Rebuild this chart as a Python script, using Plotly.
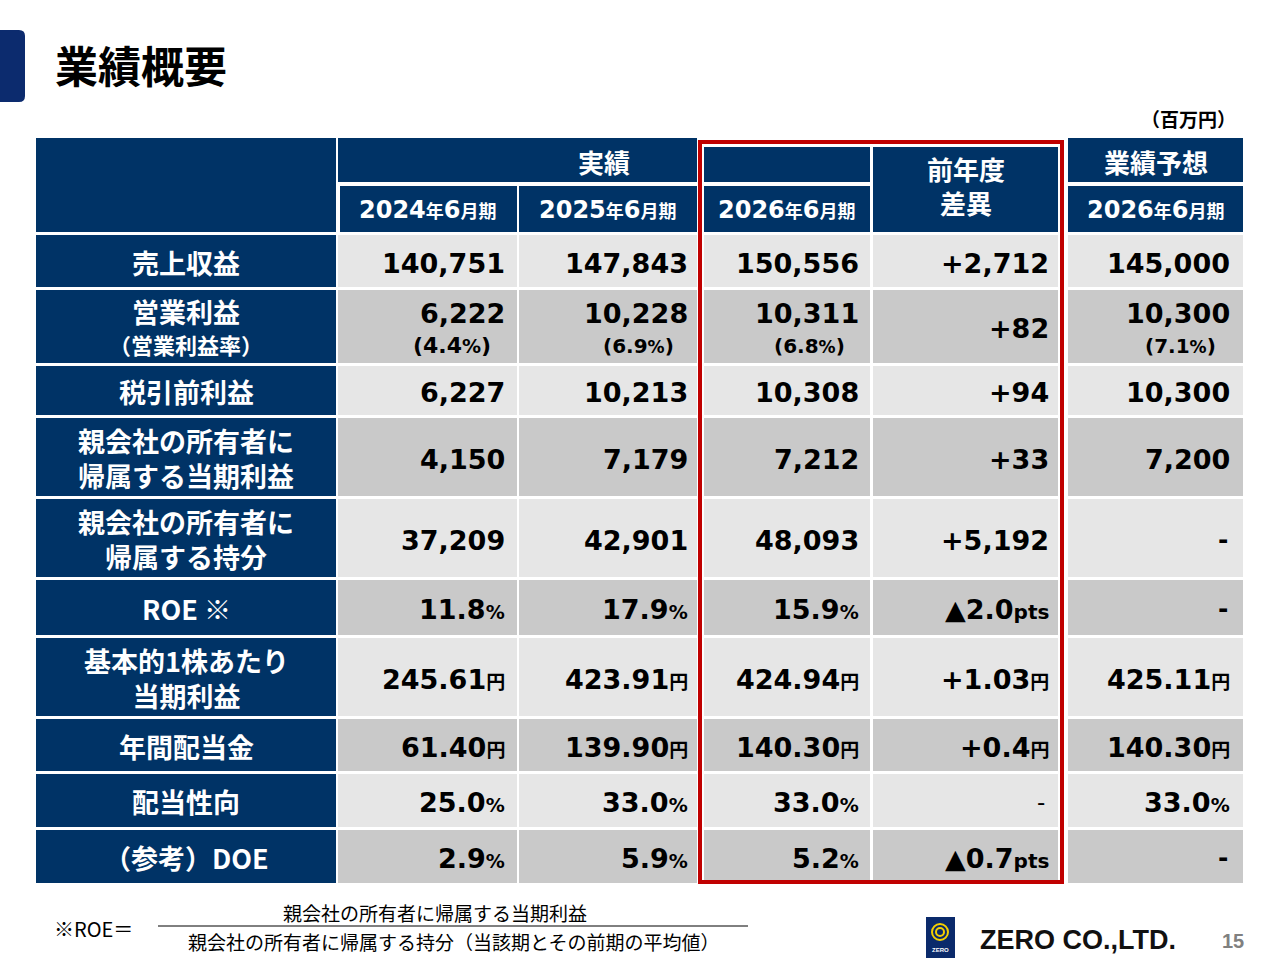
import plotly.graph_objects as go

# ---------------- data ----------------
row_labels = [
    ["売上収益"],
    ["営業利益", "（営業利益率）"],
    ["税引前利益"],
    ["親会社の所有者に", "帰属する当期利益"],
    ["親会社の所有者に", "帰属する持分"],
    ["ROE ※"],
    ["基本的1株あたり", "当期利益"],
    ["年間配当金"],
    ["配当性向"],
    ["（参考）DOE"],
]
units = ["", "", "", "", "", "%", "円", "円", "%", "%"]
diff_units = ["", "", "", "", "", "pts", "円", "円", "", "pts"]

fy2024 = ["140,751", "6,222", "6,227", "4,150", "37,209", "11.8", "245.61", "61.40", "25.0", "2.9"]
fy2025 = ["147,843", "10,228", "10,213", "7,179", "42,901", "17.9", "423.91", "139.90", "33.0", "5.9"]
fy2026 = ["150,556", "10,311", "10,308", "7,212", "48,093", "15.9", "424.94", "140.30", "33.0", "5.2"]
diff_prev = ["+2,712", "+82", "+94", "+33", "+5,192", "▲2.0", "+1.03", "+0.4", "-", "▲0.7"]
forecast = ["145,000", "10,300", "10,300", "7,200", "-", "-", "425.11", "140.30", "33.0", "-"]

op_margin_2024 = "4.4"
op_margin_2025 = "6.9"
op_margin_2026 = "6.8"
op_margin_fc = "7.1"

period_headers = ["2024", "2025", "2026", "2026"]
group_actual = "実績"
group_diff = ["前年度", "差異"]
group_forecast = "業績予想"
title = "業績概要"
unit_note = "（百万円）"
roe_numerator = "親会社の所有者に帰属する当期利益"
roe_denominator = "親会社の所有者に帰属する持分（当該期とその前期の平均値）"

# ---------------- layout geometry ----------------
NAVY = "#003366"
LIGHT = "#e6e6e6"
DARK = "#c9c9c9"
RED = "#c00000"
NUM_FONT = "DejaVu Sans, Noto Sans CJK JP"
JP_FONT = "Noto Sans CJK JP"

label_x = (36, 336)
col_x = [(338, 517), (519, 697), (704, 870), (873, 1058), (1068, 1243)]
col_right = [507, 690, 861, 1051, 1232]
row_y = [(235, 287), (290, 363), (366, 415), (418, 496), (499, 577),
         (580, 635), (638, 716), (719, 771), (774, 827), (830, 883)]

shapes = []
annotations = []


def rect(x0, x1, y0, y1, color, line=None, lw=0):
    shapes.append(dict(type="rect", xref="x", yref="y", x0=x0, x1=x1, y0=y0, y1=y1,
                       fillcolor=color, line=dict(width=lw, color=line or color),
                       layer="below"))


def text(x, y, s, size, color="#000", font=JP_FONT, anchor="center", weight="bold"):
    annotations.append(dict(x=x, y=y, xref="x", yref="y", text=s, showarrow=False,
                            xanchor=anchor, yanchor="middle", align=anchor if anchor != "center" else "center",
                            font=dict(size=size, color=color, family=font, weight=weight)))


def small(s, size=17):
    return f"<span style='font-size:{size}px'>{s}</span>"


# title block
shapes.append(dict(type="path", xref="x", yref="y",
                   path="M 0 30 L 19 30 Q 25 30 25 36 L 25 96 Q 25 102 19 102 L 0 102 Z",
                   fillcolor="#0c2b6e", line=dict(width=0)))
text(53, 64, title, 43, anchor="left")
text(1238, 118, unit_note, 19, anchor="right")

# header cells
rect(label_x[0], label_x[1], 138, 232, NAVY)
rect(col_x[0][0], col_x[1][1], 138, 182, NAVY)
rect(col_x[0][0] + 2, col_x[0][1], 186, 232, NAVY)
rect(col_x[1][0], col_x[1][1], 186, 232, NAVY)
rect(col_x[2][0], col_x[2][1], 147, 182, NAVY)
rect(col_x[2][0], col_x[2][1], 186, 232, NAVY)
rect(col_x[3][0], col_x[3][1], 147, 232, NAVY)
rect(col_x[4][0], col_x[4][1], 138, 182, NAVY)
rect(col_x[4][0], col_x[4][1], 186, 232, NAVY)

text((col_x[0][0] + col_x[2][1]) / 2, 161, group_actual, 26, "white")
text((col_x[4][0] + col_x[4][1]) / 2, 161, group_forecast, 26, "white")
text((col_x[3][0] + col_x[3][1]) / 2, 185, group_diff[0] + "<br>" + group_diff[1], 26, "white")

for ci, yr in zip([0, 1, 2, 4], period_headers):
    cx = (col_x[ci][0] + col_x[ci][1]) / 2
    s = yr + small("年", 18) + "6" + small("月期", 18)
    text(cx, 210, s, 24, "white", font=NUM_FONT)

# body
columns = [fy2024, fy2025, fy2026, diff_prev, forecast]
margins = [op_margin_2024, op_margin_2025, op_margin_2026, None, op_margin_fc]
for ri, (y0, y1) in enumerate(row_y):
    fill = LIGHT if ri % 2 == 0 else DARK
    rect(label_x[0], label_x[1], y0, y1, NAVY)
    ybot = y1 - 3 if ri == len(row_y) - 1 else y1
    for ci, (x0, x1) in enumerate(col_x):
        yb = ybot if ci in (2, 3) else y1
        rect(x0, x1, y0, yb, fill)
    # label
    lab = row_labels[ri]
    cy = (y0 + y1) / 2 + 1
    if len(lab) == 1:
        text(186, cy, lab[0], 27, "white")
    elif ri == 1:
        text(186, cy - 2, small(lab[0], 27) + "<br>" + small(lab[1], 22), 24, "white")
    else:
        text(186, cy, lab[0] + "<br>" + lab[1], 27, "white")
    # values
    for ci, col in enumerate(columns):
        v = col[ri]
        u = diff_units[ri] if ci == 3 else units[ri]
        if v == "-":
            if ci == 3:
                text(col_right[ci] - 4, cy, v, 23, weight="normal", font=NUM_FONT, anchor="right")
            else:
                text(col_right[ci] - 2, cy, v, 25, font=NUM_FONT, anchor="right")
            continue
        s = v + (small(u, 19 if u != "pts" else 20) if u else "")
        if ri == 1 and margins[ci] is not None:
            psz = 22 if ci == 0 else 20
            text(col_right[ci], cy - 14, s, 27, font=NUM_FONT, anchor="right")
            text(col_right[ci] - 14, cy + 18, "(" + margins[ci] + small("%", psz - 3) + ")",
                 psz, font=NUM_FONT, anchor="right")
        else:
            text(col_right[ci], cy + 1, s, 27, font=NUM_FONT, anchor="right")

# red highlight box
shapes.append(dict(type="rect", xref="x", yref="y", x0=700, x1=1062, y0=142, y1=882,
                   line=dict(width=4, color=RED), fillcolor="rgba(0,0,0,0)", layer="above"))

# footer formula
text(52, 928, "※ROE＝", 20, weight="normal", anchor="left")
text(435, 912, roe_numerator, 19, weight="normal")
shapes.append(dict(type="line", xref="x", yref="y", x0=158, x1=748, y0=926, y1=926,
                   line=dict(width=1, color="#000")))
text(453, 941, roe_denominator, 19, weight="normal")

# logo
rect(926, 955, 917, 958, "#0b2a6b")
shapes.append(dict(type="circle", xref="x", yref="y", x0=932, x1=948, y0=924, y1=940,
                   line=dict(width=2, color="#f5d000"), fillcolor="rgba(0,0,0,0)"))
shapes.append(dict(type="circle", xref="x", yref="y", x0=936, x1=944, y0=928, y1=936,
                   line=dict(width=2, color="#f5d000"), fillcolor="rgba(0,0,0,0)"))
text(940, 950, "ZERO", 6, "white", font="Liberation Sans")
text(978, 940, "ZERO CO.,LTD.", 27, "#111", font="Liberation Sans", anchor="left")
text(1246, 941, "15", 20, "#808080", font="Liberation Sans", anchor="right")

fig = go.Figure()
fig.update_layout(
    width=1280, height=960,
    margin=dict(l=0, r=0, t=0, b=0),
    paper_bgcolor="white", plot_bgcolor="white",
    xaxis=dict(range=[0, 1280], visible=False, fixedrange=True),
    yaxis=dict(range=[960, 0], visible=False, fixedrange=True),
    shapes=shapes, annotations=annotations, showlegend=False,
)
fig.write_html("out.html", config={"displayModeBar": False},
               post_script="document.body.style.margin='0';")
